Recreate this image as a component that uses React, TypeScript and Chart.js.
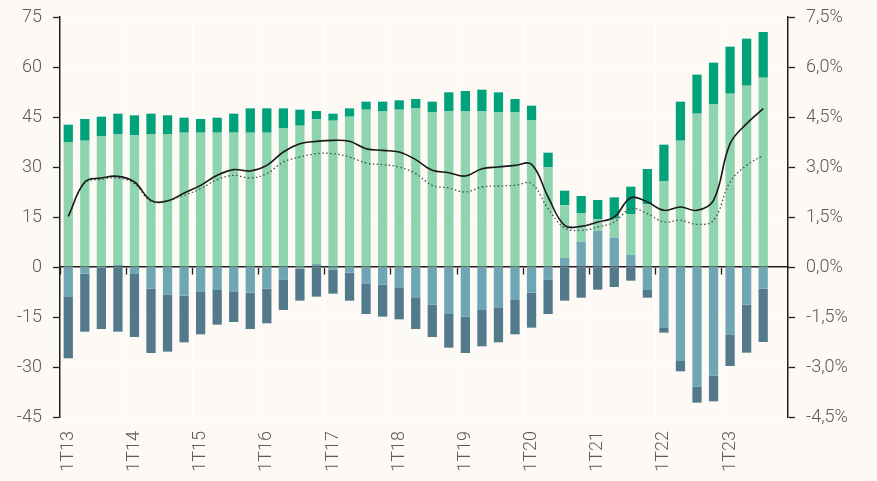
import React, { useEffect, useRef } from "react";
import { Chart, registerables } from "chart.js";

Chart.register(...registerables);

const quarters = [
  "1T13", "2T13", "3T13", "4T13",
  "1T14", "2T14", "3T14", "4T14",
  "1T15", "2T15", "3T15", "4T15",
  "1T16", "2T16", "3T16", "4T16",
  "1T17", "2T17", "3T17", "4T17",
  "1T18", "2T18", "3T18", "4T18",
  "1T19", "2T19", "3T19", "4T19",
  "1T20", "2T20", "3T20", "4T20",
  "1T21", "2T21", "3T21", "4T21",
  "1T22", "2T22", "3T22", "4T22",
  "1T23", "2T23", "3T23", "4T23",
];

// Stacked bar components (left axis)
const lightBlue = [
  -9.0, -2.0, -0.3, 0.6, -2.1, -6.5, -8.2, -8.6, -7.3, -6.9, -7.3, -7.7, -6.5, -3.7, -0.5, 0.9,
  -0.8, -1.7, -4.9, -5.3, -6.1, -9.3, -11.3, -14.1, -14.9, -12.9, -12.1, -9.7, -7.7, -3.7, 2.7, 7.6,
  10.8, 8.8, 3.6, -6.9, -18.1, -28.2, -35.9, -32.6, -20.2, -11.3, -6.5, null,
];
const darkSlate = [
  -18.4, -17.4, -18.3, -19.4, -18.9, -19.3, -17.2, -14.0, -12.9, -10.4, -9.2, -10.9, -10.4, -9.2, -9.6, -8.9,
  -7.2, -8.4, -9.2, -9.6, -9.6, -9.3, -9.7, -10.1, -10.9, -10.9, -10.5, -10.5, -10.5, -10.4, -10.1, -9.2,
  -6.8, -6.0, -4.1, -2.3, -1.6, -3.1, -4.8, -7.7, -9.5, -14.4, -16.0, null,
];
const lightGreen = [
  37.5, 37.9, 39.2, 39.3, 39.5, 39.9, 39.9, 40.3, 40.3, 40.3, 40.3, 40.3, 40.3, 41.6, 42.4, 43.4,
  43.9, 45.1, 47.2, 46.8, 47.2, 47.6, 46.4, 46.8, 46.8, 46.8, 46.4, 46.4, 44.0, 29.9, 15.8, 8.6,
  3.6, 5.7, 12.2, 18.8, 25.8, 37.9, 46.0, 48.8, 52.0, 54.4, 56.8, null,
];
const darkGreen = [
  5.2, 6.5, 5.9, 6.1, 6.0, 6.1, 5.6, 4.5, 4.1, 4.5, 5.7, 7.3, 7.3, 6.0, 4.8, 2.5,
  2.1, 2.5, 2.4, 2.8, 2.8, 2.8, 3.2, 5.6, 6.0, 6.4, 6.0, 4.0, 4.4, 4.4, 4.4, 5.1,
  5.7, 6.4, 8.3, 10.6, 10.9, 11.7, 11.7, 12.5, 14.1, 14.1, 13.7, null,
];

// Lines (right axis, %)
const solidLine = [
  1.52, 2.55, 2.67, 2.72, 2.55, 2.0, 1.98, 2.22, 2.45, 2.75, 2.92, 2.88, 3.05, 3.45, 3.7, 3.77,
  3.8, 3.77, 3.55, 3.5, 3.45, 3.22, 2.9, 2.83, 2.73, 2.95, 3.0, 3.05, 3.08, 2.1, 1.25, 1.22,
  1.35, 1.5, 2.08, 1.95, 1.7, 1.8, 1.7, 2.0, 3.7, 4.3, 4.75, null,
];
const dottedLine = [
  1.52, 2.52, 2.63, 2.67, 2.5, 1.97, 2.0, 2.15, 2.35, 2.62, 2.75, 2.67, 2.8, 3.15, 3.3, 3.4,
  3.4, 3.3, 3.12, 3.07, 3.0, 2.8, 2.45, 2.37, 2.25, 2.4, 2.43, 2.45, 2.5, 1.75, 1.17, 1.1,
  1.2, 1.35, 1.75, 1.6, 1.35, 1.4, 1.28, 1.4, 2.55, 3.05, 3.35, null,
];

const leftTicks = [-45, -30, -15, 0, 15, 30, 45, 60, 75];
const rightTicks = [-4.5, -3.0, -1.5, 0.0, 1.5, 3.0, 4.5, 6.0, 7.5];

const TEXT = "#5b5b5b";
const AXIS = "#1e1e1e";
const FONT = { family: "Roboto, 'Noto Sans', sans-serif", size: 18, weight: 300 as any };

export default function App() {
  const ref = useRef<HTMLCanvasElement>(null);

  useEffect(() => {
    document.body.style.margin = "0";
    const canvas = ref.current!;
    const barCommon = {
      type: "bar" as const,
      xAxisID: "x",
      yAxisID: "y",
      stack: "s",
      barPercentage: 0.56,
      categoryPercentage: 1,
      borderWidth: 0,
      order: 1,
    };
    const chart = new Chart(canvas, {
      type: "bar",
      data: {
        labels: quarters,
        datasets: [
          {
            type: "line",
            data: solidLine,
            xAxisID: "x",
            yAxisID: "y2",
            borderColor: "#1a1a1a",
            borderWidth: 1.6,
            pointRadius: 0,
            tension: 0.4,
            fill: false,
            order: 0,
          } as any,
          {
            type: "line",
            data: dottedLine,
            xAxisID: "x",
            yAxisID: "y2",
            borderColor: "#4a4a4a",
            borderWidth: 1.3,
            borderDash: [1.5, 2.5],
            pointRadius: 0,
            tension: 0.4,
            fill: false,
            order: 0,
          } as any,
          { ...barCommon, data: lightBlue, backgroundColor: "#6fa6b5" },
          { ...barCommon, data: darkSlate, backgroundColor: "#527a8a" },
          { ...barCommon, data: lightGreen, backgroundColor: "#8dd4af" },
          { ...barCommon, data: darkGreen, backgroundColor: "#00a27b" },
        ],
      },
      options: {
        responsive: false,
        animation: false,
        events: [],
        layout: { padding: { top: 17, bottom: 0, left: 0, right: 0 } },
        plugins: { legend: { display: false }, tooltip: { enabled: false } },
        scales: {
          x: {
            type: "category",
            position: "bottom",
            stacked: true,
            offset: true,
            grid: {
              offset: true,
              drawTicks: false,
              lineWidth: 1,
              color: (ctx: any) => (ctx.index !== undefined && ctx.index % 4 === 0 ? "#ffffff" : "rgba(0,0,0,0)"),
            },
            border: { display: false },
            ticks: {
              autoSkip: false,
              minRotation: 90,
              maxRotation: 90,
              padding: 14,
              color: TEXT,
              font: FONT,
              callback: (_v: any, i: number) => (i % 4 === 0 ? quarters[i] : ""),
            },
            afterFit: (s: any) => {
              s.height = 64;
              s.paddingLeft = 0;
              s.paddingRight = 0;
            },
          },
          x2: {
            type: "category",
            position: { y: 0 } as any,
            offset: true,
            grid: {
              offset: true,
              drawOnChartArea: false,
              drawTicks: true,
              tickLength: 7,
              tickWidth: 1.3,
              tickColor: (ctx: any) => (ctx.index !== undefined && ctx.index % 4 === 0 ? AXIS : "rgba(0,0,0,0)"),
            },
            border: { display: true, color: AXIS, width: 1.5 },
            ticks: { display: false, autoSkip: false },
          } as any,
          y: {
            type: "linear",
            position: "left",
            stacked: true,
            min: -45,
            max: 75,
            afterBuildTicks: (s: any) => {
              s.ticks = leftTicks.map((v) => ({ value: v }));
            },
            grid: {
              color: "#ffffff",
              lineWidth: 1,
              tickColor: AXIS,
              tickLength: 7,
              tickWidth: 1.3,
            },
            border: { display: true, color: AXIS, width: 1.5 },
            ticks: {
              padding: 11,
              color: TEXT,
              font: FONT,
              callback: (v: any) => String(v),
            },
            afterFit: (s: any) => {
              s.width = 60;
              s.paddingTop = 0;
              s.paddingBottom = 0;
            },
          },
          y2: {
            type: "linear",
            position: "right",
            min: -4.5,
            max: 7.5,
            afterBuildTicks: (s: any) => {
              s.ticks = rightTicks.map((v) => ({ value: v }));
            },
            grid: {
              drawOnChartArea: false,
              tickColor: AXIS,
              tickLength: 7,
              tickWidth: 1.3,
            },
            border: { display: true, color: AXIS, width: 1.5 },
            ticks: {
              padding: 11,
              color: TEXT,
              font: FONT,
              callback: (v: any) => Number(v).toFixed(1).replace(".", ",") + "%",
            },
            afterFit: (s: any) => {
              s.width = 89;
              s.paddingTop = 0;
              s.paddingBottom = 0;
            },
          },
        },
      },
    });
    return () => chart.destroy();
  }, []);

  return (
    <div style={{ position: "fixed", left: 0, top: 0, width: 877, height: 481, background: "#fdf9f5" }}>
      <canvas ref={ref} width={877} height={481} style={{ display: "block" }} />
    </div>
  );
}
